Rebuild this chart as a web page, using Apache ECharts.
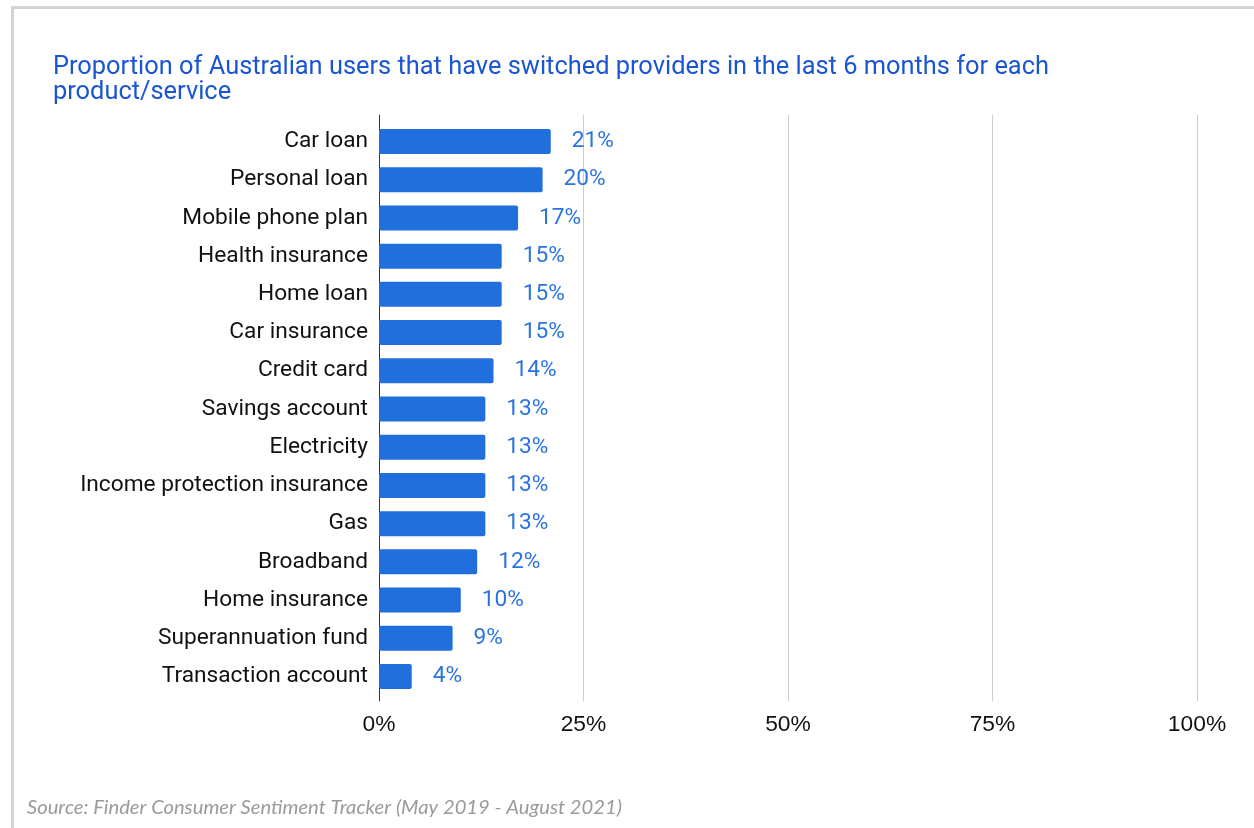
<!DOCTYPE html>
<html>
<head>
<meta charset="utf-8">
<style>
  html, body { margin: 0; padding: 0; background: #ffffff; }
  #chart { width: 1254px; height: 828px; }
</style>
<script src="https://cdn.jsdelivr.net/npm/echarts@6/dist/echarts.min.js"></script>
</head>
<body>
<div id="chart"></div>
<script>
// Products / services, top to bottom
const categories = [
  'Car loan', 'Personal loan', 'Mobile phone plan', 'Health insurance', 'Home loan',
  'Car insurance', 'Credit card', 'Savings account', 'Electricity',
  'Income protection insurance', 'Gas', 'Broadband', 'Home insurance',
  'Superannuation fund', 'Transaction account'
];
// Share of users who switched provider in the last 6 months (%)
const switchedPct = [21, 20, 17, 15, 15, 15, 14, 13, 13, 13, 13, 12, 10, 9, 4];
// Value axis ticks (%)
const tickValues = [0, 25, 50, 75, 100];

const titleText = 'Proportion of Australian users that have switched providers in the last 6 months for each\nproduct/service';
const sourceText = 'Source: Finder Consumer Sentiment Tracker (May 2019 - August 2021)';

const chart = echarts.init(document.getElementById('chart'), null, { renderer: 'canvas' });

const plotLeft = 379, plotRight = 57;

chart.setOption({
  animation: false,
  backgroundColor: '#ffffff',
  title: {
    text: titleText,
    left: 53,
    top: 55,
    padding: 0,
    textStyle: {
      fontFamily: 'Roboto',
      fontSize: 25.4,
      fontWeight: 'normal',
      lineHeight: 25,
      color: '#1a56d2'
    }
  },
  grid: [
    // frame for gridlines and the baseline axis
    { left: plotLeft, right: plotRight, top: 115, bottom: 127, containLabel: false },
    // bars
    { left: plotLeft, right: plotRight, top: 122.4, bottom: 132.4, containLabel: false }
  ],
  xAxis: [
    {
      gridIndex: 0,
      type: 'value',
      min: tickValues[0],
      max: tickValues[tickValues.length - 1],
      interval: 25,
      axisLine: { show: false },
      axisTick: { show: false },
      splitLine: {
        show: true,
        lineStyle: { color: '#cccccc', width: 1 },
        showMinLine: false
      },
      axisLabel: {
        show: true,
        margin: 12,
        fontFamily: 'Liberation Sans',
        fontSize: 22.8,
        color: '#111111',
        formatter: v => v + '%'
      }
    },
    {
      gridIndex: 1,
      type: 'value',
      min: tickValues[0],
      max: tickValues[tickValues.length - 1],
      interval: 25,
      show: false
    }
  ],
  yAxis: [
    {
      gridIndex: 0,
      type: 'value',
      min: 0,
      max: 1,
      axisLine: { show: true, onZero: false, lineStyle: { color: '#333333', width: 1 } },
      axisTick: { show: false },
      axisLabel: { show: false },
      splitLine: { show: false }
    },
    {
      gridIndex: 1,
      type: 'category',
      data: categories,
      inverse: true,
      axisLine: { show: false },
      axisTick: { show: false },
      splitLine: { show: false },
      axisLabel: {
        margin: 11,
        fontFamily: 'Roboto',
        fontSize: 22.7,
        color: '#111111'
      }
    }
  ],
  series: [
    {
      type: 'bar',
      xAxisIndex: 1,
      yAxisIndex: 1,
      data: switchedPct,
      barCategoryGap: '34.5%',
      itemStyle: { color: '#206fdd', borderRadius: 2 },
      label: {
        show: true,
        position: 'right',
        distance: 21,
        fontFamily: 'Roboto',
        fontSize: 22.7,
        color: '#2b74e0',
        formatter: p => p.value + '%'
      }
    }
  ],
  graphic: [
    {
      type: 'rect',
      shape: { x: 12.5, y: 7.5, width: 1400, height: 1000 },
      style: { fill: 'none', stroke: '#d4d4d4', lineWidth: 3 },
      silent: true
    },
    {
      type: 'text',
      left: 27,
      top: 797,
      style: {
        text: sourceText,
        fontFamily: 'Lato',
        fontStyle: 'italic',
        fontSize: 20.2,
        fill: '#9a9a9a'
      }
    }
  ]
});
</script>
</body>
</html>
